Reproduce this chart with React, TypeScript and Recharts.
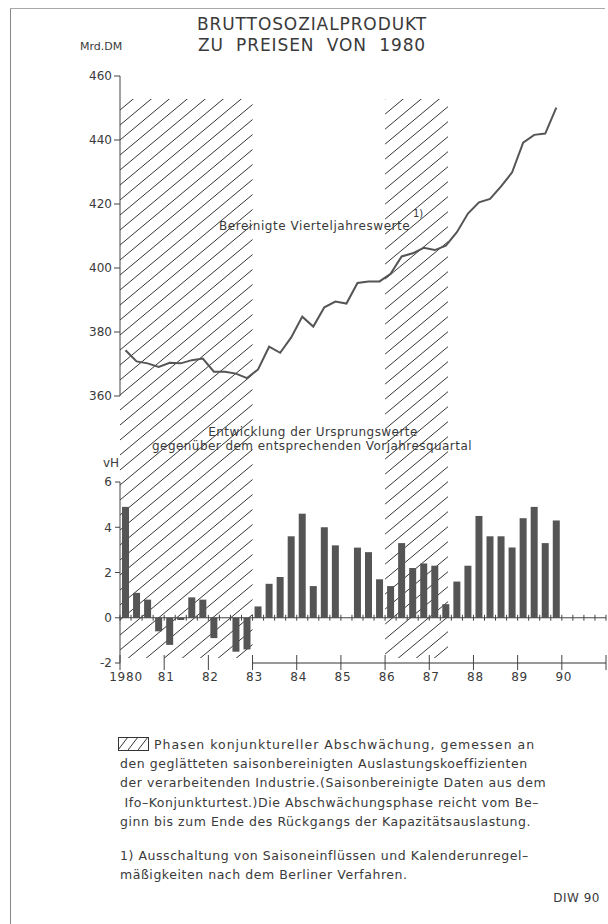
import React from 'react';
import { ComposedChart, Line, Bar, XAxis, YAxis, ReferenceArea, ReferenceLine } from 'recharts';

// ---------- data ----------
const years = [1980, 1981, 1982, 1983, 1984, 1985, 1986, 1987, 1988, 1989];
const quarterNames = ['I', 'II', 'III', 'IV'];

// Bruttosozialprodukt, saisonbereinigte Vierteljahreswerte (Mrd. DM, Preise von 1980)
const gnpLevel = [
  374.3, 370.8, 370.2, 369.1,
  370.4, 370.2, 371.2, 371.7,
  367.6, 367.6, 367.0, 365.6,
  368.3, 375.4, 373.5, 378.3,
  384.8, 381.7, 387.7, 389.5,
  388.9, 395.3, 395.8, 395.8,
  398.2, 403.6, 404.6, 406.3,
  405.6, 407.0, 411.2, 417.0,
  420.5, 421.6, 425.5, 429.9,
  439.2, 441.6, 442.0, 450.1,
];

// Veränderung gegenüber Vorjahresquartal (vH)
const gnpChange = [
  4.9, 1.1, 0.8, -0.6,
  -1.2, -0.1, 0.9, 0.8,
  -0.9, 0, -1.5, -1.4,
  0.5, 1.5, 1.8, 3.6,
  4.6, 1.4, 4.0, 3.2,
  0, 3.1, 2.9, 1.7,
  1.4, 3.3, 2.2, 2.4,
  2.3, 0.6, 1.6, 2.3,
  4.5, 3.6, 3.6, 3.1,
  4.4, 4.9, 3.3, 4.3,
];

// Abschwächungsphasen, in Quartalen ab 1980 I
const downturnStart = [0, 24];
const downturnEnd = [12, 29.7];

const levelTicks = [360, 380, 400, 420, 440, 460];
const changeTicks = [-2, 0, 2, 4, 6];
const yearTickLabels = ['1980', '81', '82', '83', '84', '85', '86', '87', '88', '89', '90', ''];
const yearTickQuarters = yearTickLabels.map((_, i) => i * 4);
const quarterBoundaries = Array.from({ length: 45 }, (_, i) => i);

const rows = gnpLevel.map((v, i) => ({
  t: i + 0.5,
  quarter: `${years[Math.floor(i / 4)]} ${quarterNames[i % 4]}`,
  level: v,
  change: gnpChange[i],
}));

// ---------- styles ----------
const FONT = 'DejaVu Sans';
const INK = '#3a3a3a';
const SERIES = '#555555';

const HatchDefs = ({ id }: { id: string }) => (
  <defs>
    <pattern id={id} patternUnits="userSpaceOnUse" width={18} height={15}>
      <path d="M-1,15.83 L19,-0.83 M-1,0.83 L1,-0.83 M17,15.83 L19,14.17" stroke="#333" strokeWidth={1} fill="none" />
    </pattern>
  </defs>
);

const YearTick = (props: any) => {
  const { x, y, payload } = props;
  const idx = Math.round(payload.value / 4);
  const label = yearTickLabels[idx] ?? '';
  const dx = idx === 0 ? 6 : 2;
  return (
    <g>
      <line x1={x} x2={x} y1={y - 8} y2={y + 7} stroke="#444" strokeWidth={1} />
      <text x={x + dx} y={y + 18} textAnchor="middle" fontFamily={FONT} fontSize={12} letterSpacing={0.8} fill={INK}>
        {label}
      </text>
    </g>
  );
};

const Txt = ({ x, y, size = 12, anchor = 'start', children, style = {} }: any) => {
  const base: React.CSSProperties = {
    position: 'absolute',
    top: y - size * 0.6,
    lineHeight: `${size * 1.2}px`,
    fontSize: size,
    fontFamily: FONT,
    color: INK,
    whiteSpace: 'pre',
  };
  if (anchor === 'middle') {
    Object.assign(base, { left: x - 300, width: 600, textAlign: 'center' });
  } else if (anchor === 'end') {
    Object.assign(base, { right: 608 - x, textAlign: 'right' });
  } else {
    Object.assign(base, { left: x });
  }
  return <div style={{ ...base, ...style }}>{children}</div>;
};

const legendStyle = { letterSpacing: 0.55 };

export default function App() {
  const tickStyle = { fill: INK, fontSize: 12, fontFamily: FONT };
  return (
    <div style={{ position: 'absolute', left: 0, top: 0, width: 608, height: 924, background: '#fff', overflow: 'hidden' }}>
      {/* page frame */}
      <div style={{ position: 'absolute', left: 10, top: 8, width: 1, height: 916, background: '#888' }} />
      <div style={{ position: 'absolute', left: 10, top: 8, width: 595, height: 1, background: '#aaa' }} />

      {/* upper panel: levels */}
      <div style={{ position: 'absolute', left: 0, top: 0 }}>
        <ComposedChart width={608} height={450} data={rows} margin={{ top: 76, right: 2, bottom: 54, left: 60 }}>
          <HatchDefs id="hatchTop" />
          <XAxis dataKey="t" type="number" domain={[0, 44]} hide allowDataOverflow />
          <YAxis
            type="number"
            domain={[360, 460]}
            ticks={levelTicks}
            interval={0}
            width={60}
            tickSize={6}
            tickMargin={2}
            allowDataOverflow
            axisLine={{ stroke: '#444' }}
            tickLine={{ stroke: '#444' }}
            tick={tickStyle}
          />
          {downturnStart.map((s, i) => (
            <ReferenceArea
              key={`ra${i}`}
              x1={s}
              x2={downturnEnd[i]}
              y1={452.8}
              y2={330}
              ifOverflow="visible"
              fill="url(#hatchTop)"
              fillOpacity={1}
              stroke="none"
            />
          ))}
          <Line
            dataKey="level"
            type="linear"
            stroke={SERIES}
            strokeWidth={2}
            dot={false}
            activeDot={false}
            isAnimationActive={false}
          />
        </ComposedChart>
      </div>

      {/* lower panel: year-on-year changes */}
      <div style={{ position: 'absolute', left: 0, top: 450 }}>
        <ComposedChart width={608} height={250} data={rows} margin={{ top: 32, right: 2, bottom: 7, left: 60 }}>
          <HatchDefs id="hatchBottom" />
          <XAxis
            dataKey="t"
            type="number"
            domain={[0, 44]}
            ticks={yearTickQuarters}
            interval={0}
            height={30}
            axisLine={false}
            tickLine={false}
            tickSize={0}
            tickMargin={0}
            tick={<YearTick />}
            allowDataOverflow
          />
          <YAxis
            type="number"
            domain={[-2, 6]}
            ticks={changeTicks}
            interval={0}
            width={60}
            tickSize={5}
            tickMargin={3}
            allowDataOverflow
            axisLine={{ stroke: '#444' }}
            tickLine={{ stroke: '#444' }}
            tick={tickStyle}
          />
          {downturnStart.map((s, i) => (
            <ReferenceArea
              key={`rb${i}`}
              x1={s}
              x2={downturnEnd[i]}
              y1={9}
              y2={-1.78}
              ifOverflow="visible"
              fill="url(#hatchBottom)"
              fillOpacity={1}
              stroke="none"
            />
          ))}
          <ReferenceLine y={0} stroke="#444" strokeWidth={1} />
          {quarterBoundaries.map((q) => (
            <ReferenceLine
              key={`qt${q}`}
              segment={[{ x: q, y: -0.13 }, { x: q, y: 0.13 }]}
              stroke="#444"
              strokeWidth={1}
            />
          ))}
          <ReferenceLine segment={[{ x: 12, y: -2 }, { x: 44, y: -2 }]} stroke="#333" strokeWidth={1.2} />
          <Bar dataKey="change" fill={SERIES} barSize={7} isAnimationActive={false} />
        </ComposedChart>
      </div>

      {/* titles and annotations */}
      <Txt x={312} y={24} size={17} anchor="middle" style={{ letterSpacing: 0.9 }}>BRUTTOSOZIALPRODUKT</Txt>
      <Txt x={312} y={45} size={17} anchor="middle" style={{ letterSpacing: 0.9, wordSpacing: 6 }}>ZU PREISEN VON 1980</Txt>
      <Txt x={80} y={47} size={11}>Mrd.DM</Txt>
      <Txt x={219} y={226} size={12} style={{ letterSpacing: 0.55 }}>Bereinigte Vierteljahreswerte</Txt>
      <Txt x={413} y={214} size={10}>1)</Txt>
      <Txt x={313} y={432} size={12} anchor="middle" style={{ letterSpacing: 0.45 }}>Entwicklung der Ursprungswerte</Txt>
      <Txt x={312} y={446} size={12} anchor="middle" style={{ letterSpacing: 0.45 }}>gegenüber dem entsprechenden Vorjahresquartal</Txt>
      <Txt x={103} y={463} size={12}>vH</Txt>

      {/* legend */}
      <svg style={{ position: 'absolute', left: 118, top: 737 }} width={32} height={15}>
        <defs>
          <pattern id="hatchLegend" patternUnits="userSpaceOnUse" width={10} height={13}>
            <path d="M-1,14.3 L11,-1.3" stroke="#333" strokeWidth={1} fill="none" />
          </pattern>
        </defs>
        <rect x={0.5} y={0.5} width={30} height={13} fill="url(#hatchLegend)" stroke="#333" strokeWidth={1} />
      </svg>
      <Txt x={154} y={744} size={12.5} style={{ letterSpacing: 1.0 }}>Phasen konjunktureller Abschwächung, gemessen an</Txt>
      <Txt x={120} y={763} size={12.5} style={legendStyle}>den geglätteten saisonbereinigten Auslastungskoeffizienten</Txt>
      <Txt x={120} y={782} size={12.5} style={legendStyle}>der verarbeitenden Industrie.(Saisonbereinigte Daten aus dem</Txt>
      <Txt x={120} y={802} size={12.5} style={legendStyle}> Ifo–Konjunkturtest.)Die Abschwächungsphase reicht vom Be–</Txt>
      <Txt x={120} y={821} size={12.5} style={legendStyle}>ginn bis zum Ende des Rückgangs der Kapazitätsauslastung.</Txt>
      <Txt x={120} y={855} size={12.5} style={legendStyle}>1) Ausschaltung von Saisoneinflüssen und Kalenderunregel–</Txt>
      <Txt x={120} y={874} size={12.5} style={legendStyle}>mäßigkeiten nach dem Berliner Verfahren.</Txt>
      <Txt x={600} y={898} size={12} anchor="end" style={{ letterSpacing: 0.5 }}>DIW 90</Txt>
    </div>
  );
}
